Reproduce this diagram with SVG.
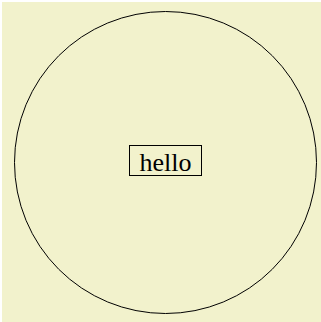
<svg xmlns="http://www.w3.org/2000/svg" width="321" height="322" viewBox="0 0 321 322">
<style>
.ln{fill:none;stroke:#000;stroke-width:1}
.t{font-family:"Liberation Serif","Times New Roman",serif;font-size:26px;fill:#000}
</style>
<rect x="2" y="2" width="319" height="320" fill="#f2f2cc"/>
<g id="circle"><circle class="ln" cx="165.5" cy="162.5" r="151"/></g>
<g id="hello">
<rect class="ln" x="129.5" y="145.5" width="72" height="30"/>
<text class="t" x="165.5" y="171" text-anchor="middle">hello</text>
</g>
<g id="connectors"></g>
</svg>
